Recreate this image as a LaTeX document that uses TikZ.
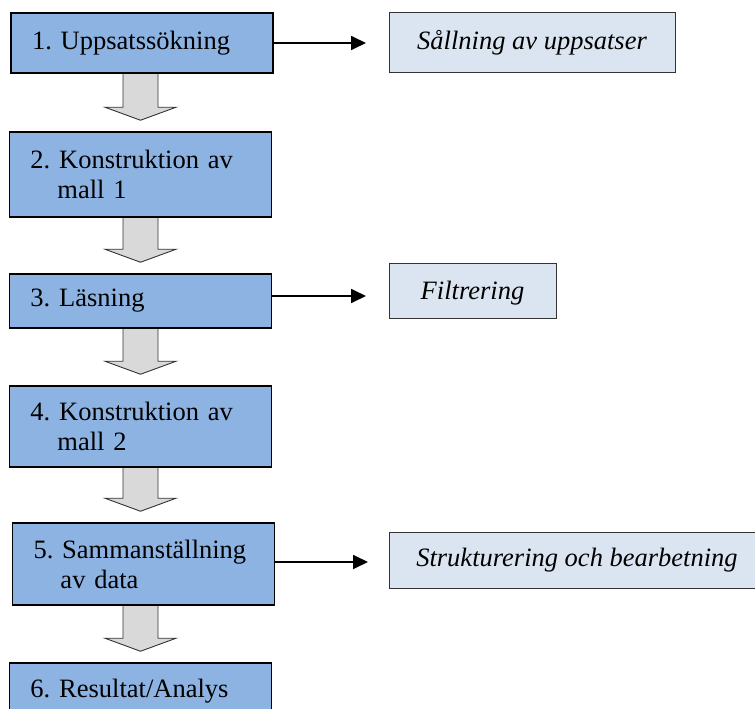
\documentclass[tikz,border=0pt]{standalone}
\usepackage{fontspec}
\setmainfont{Liberation Serif}
\usetikzlibrary{calc, arrows.meta, backgrounds}
\definecolor{StepBlue}{HTML}{8DB3E2}
\definecolor{NoteBlue}{HTML}{DBE5F1}
\definecolor{FlowGray}{HTML}{D9D9D9}
\frenchspacing
\tikzset{
    stepbox/.style={rectangle, draw=black, line width=1.5pt, fill=StepBlue, text width=220pt, inner xsep=21pt, inner ysep=0pt, align=left, font=\fontsize{26.5}{30}\selectfont},
    notebox/.style={rectangle, draw=black!80, line width=1pt, fill=NoteBlue, inner sep=0pt, font=\fontsize{26.5}{30}\selectfont\itshape},
    sidearrow/.style={-{Triangle[length=15pt, width=14pt]}, line width=1.8pt, color=black},
    flowarrow/.style={draw=black!80, line width=0.9pt, fill=FlowGray},
}

\begin{document}
\begin{tikzpicture}[x=1pt, y=-1pt]
    \clip (0,0) rectangle (755,709);

    % --- Steg ---
    \node[stepbox, minimum height=60pt] (s1) at (142, 43) {1. Uppsatssökning};
    \node[stepbox, minimum height=85pt] (s2) at (140.5, 174.5) {2. Konstruktion av\\\hspace*{27pt}mall 1};
    \node[stepbox, minimum height=54pt] (s3) at (140.5, 301) {3. Läsning};
    \node[stepbox, minimum height=81pt] (s4) at (140.5, 426.5) {4. Konstruktion av\\\hspace*{27pt}mall 2};
    \node[stepbox, minimum height=82pt] (s5) at (143.5, 564) {5. Sammanställning\\\hspace*{27pt}av data};
    \node[stepbox, minimum height=56pt] (s6) at (140.5, 691) {6. Resultat/Analys};

    % --- Sidorutor ---
    \node[notebox, minimum width=286pt, minimum height=60pt] (r1) at (532, 43) {Sållning av uppsatser};
    \node[notebox, minimum width=167pt, minimum height=55pt, text depth=0pt] (r2) at (472.5, 290.5) {Filtrering};
    \node[notebox, minimum width=376pt, minimum height=56pt] (r3) at (577, 560) {Strukturering och bearbetning};

    % --- Pilar till sidorutorna ---
    \coordinate (e1) at (366, 43);
    \coordinate (e3) at (366, 296);
    \coordinate (e5) at (368, 562);
    \draw[sidearrow] (s1.east |- e1) -- (e1);
    \draw[sidearrow] (s3.east |- e3) -- (e3);
    \draw[sidearrow] (s5.east |- e5) -- (e5);

    % --- Blockpilar mellan stegen ---
    \coordinate (mid) at (140.5, 0);
    \begin{scope}[on background layer]
        \foreach \a/\b in {s1/s2, s2/s3, s3/s4, s4/s5, s5/s6}
            \path[flowarrow] ($(\a.south -| mid)+(-17.5,0)$) -- ($(\b.north -| mid)+(-17.5,-24)$)
                -- ($(\b.north -| mid)+(-35.5,-24)$) -- ($(\b.north -| mid)+(0,-11)$)
                -- ($(\b.north -| mid)+(35.5,-24)$) -- ($(\b.north -| mid)+(17.5,-24)$)
                -- ($(\a.south -| mid)+(17.5,0)$);
    \end{scope}
\end{tikzpicture}
\end{document}
